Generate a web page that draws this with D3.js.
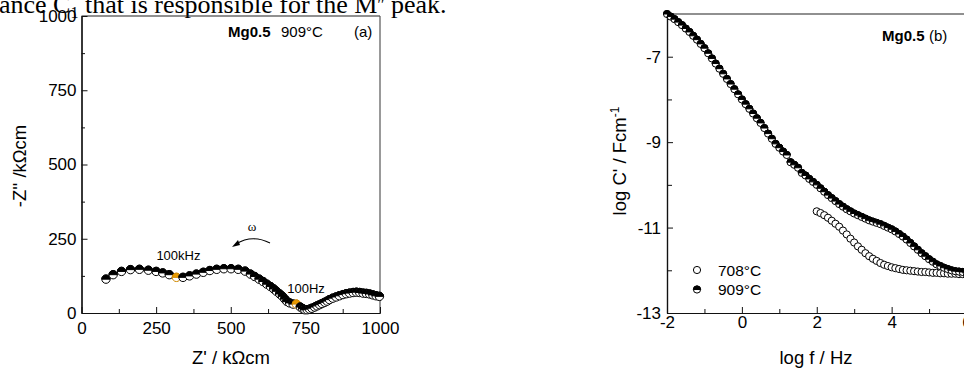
<!DOCTYPE html>
<html><head><meta charset="utf-8">
<script src="https://cdn.jsdelivr.net/npm/d3@7"></script>
<style>
html,body{margin:0;padding:0;background:#fff;overflow:hidden;}
text{font-family:"Liberation Sans",Arial,sans-serif;fill:#000;}
</style></head>
<body>
<svg id="fig" width="964" height="370"></svg>
<script>
// ---------- Panel (a): Nyquist plot, Mg0.5 at 909°C ----------
const zReal = [82,106,134,164,194,224,250,272,294,318,340,362,385,408,430,453,477,501,525,548,
  566,580,595,608,621,633,644,653,664,673,681,688,697,709,720,
  733,741,748,756,764,772,781,789,798,806,815,823,831,842,853,864,876,887,898,910,921,932,943,954,965,976,987,998];
const zImag = [114,129,140,146,147,144,140,135,129,120,120,125,131,137,143,147,149,149,147,141,
  131,123,114,106,97,89,81,73,64,56,47,39,34,30,30,
  20,15,11,11,13,16,20,24,28,32,36,40,45,50,54,58,62,65,67,69,70,69,67,66,64,61,58,56];
const highlightIdx = [9, 34];           // 100 kHz and 100 Hz points
const highlightLabels = ["100kHz", "100Hz"];
const aTicks = [0, 250, 500, 750, 1000];
const aMinor = [125, 375, 625, 875];

// ---------- Panel (b): log C' vs log f ----------
const logf909 = [-2.0,-1.9,-1.8,-1.7,-1.6,-1.5,-1.4,-1.3,-1.2,-1.1,-1.0,-0.9,-0.8,-0.7,-0.6,-0.5,-0.4,-0.3,-0.2,-0.1,
  0.0,0.1,0.2,0.3,0.4,0.5,0.6,0.7,0.8,0.9,1.0,1.1,1.2,1.3,1.4,1.5,1.6,1.7,1.8,1.9,
  2.0,2.1,2.2,2.3,2.4,2.5,2.6,2.7,2.8,2.9,3.0,3.1,3.2,3.3,3.4,3.5,3.6,3.7,3.8,3.9,
  4.0,4.1,4.2,4.3,4.4,4.5,4.6,4.7,4.8,4.9,5.0,5.1,5.2,5.3,5.4,5.5,5.6,5.7,5.8,5.9,6.0];
const logC909 = [-6.00,-6.06,-6.12,-6.19,-6.26,-6.34,-6.42,-6.51,-6.60,-6.70,-6.80,-6.92,-7.04,-7.16,-7.28,-7.40,-7.52,-7.64,-7.76,-7.88,
  -8.00,-8.11,-8.22,-8.33,-8.44,-8.55,-8.67,-8.80,-8.92,-9.04,-9.13,-9.22,-9.30,-9.47,-9.53,-9.60,-9.72,-9.78,-9.86,-9.93,
  -10.00,-10.08,-10.16,-10.24,-10.31,-10.38,-10.45,-10.51,-10.57,-10.62,-10.67,-10.71,-10.75,-10.79,-10.83,-10.86,-10.89,-10.92,-10.96,-11.00,
  -11.04,-11.09,-11.15,-11.21,-11.28,-11.36,-11.44,-11.52,-11.60,-11.67,-11.74,-11.80,-11.86,-11.90,-11.94,-11.97,-12.00,-12.02,-12.03,-12.04,-12.05];
const logf708 = [2.0,2.1,2.2,2.3,2.4,2.5,2.6,2.7,2.8,2.9,3.0,3.1,3.2,3.3,3.4,3.5,3.6,3.7,3.8,3.9,
  4.0,4.1,4.2,4.3,4.4,4.5,4.6,4.7,4.8,4.9,5.0,5.1,5.2,5.3,5.4,5.5,5.6,5.7,5.8,5.9,6.0];
const logC708 = [-10.62,-10.66,-10.71,-10.77,-10.84,-10.91,-10.98,-11.07,-11.16,-11.26,-11.35,-11.44,-11.52,-11.60,-11.67,-11.73,-11.78,-11.83,-11.87,-11.90,
  -11.93,-11.95,-11.97,-11.99,-12.00,-12.01,-12.02,-12.03,-12.04,-12.04,-12.05,-12.06,-12.06,-12.07,-12.07,-12.08,-12.08,-12.08,-12.09,-12.09,-12.09];
const bXTicks = [-2, 0, 2, 4, 6];
const bXMinor = [-1, 1, 3, 5];
const bYTicks = [-13, -11, -9, -7];
const bYMinor = [-12, -10, -8];
const legendLabels = ["708°C", "909°C"];

const svg = d3.select("#fig");

// Top running text (cropped page text)
const para = svg.append("text").attr("x", -1).attr("y", 13)
  .style("font-family", "'Liberation Serif','Times New Roman',serif").style("font-size", "26px");
para.append("tspan").text("ance C");
para.append("tspan").attr("dy", 5).style("font-size", "16px").text("1");
para.append("tspan").attr("dy", -5).text(" that is responsible for the M");
para.append("tspan").attr("dy", -3).style("font-size", "16px").text("′′");
para.append("tspan").attr("dy", 3).text(" peak.");

function halfMarker(g, x, y, r, topColor, strokeColor) {
  const m = g.append("g").attr("transform", `translate(${x},${y})`);
  m.append("circle").attr("r", r).attr("fill", "#fff").attr("stroke", strokeColor).attr("stroke-width", 1);
  m.append("path").attr("d", `M${-r},0 A${r},${r} 0 0 1 ${r},0 Z`).attr("fill", topColor)
    .attr("stroke", strokeColor).attr("stroke-width", 1);
}

// ---------- Panel (a) ----------
const ax = d3.scaleLinear().domain([0, 1000]).range([81.5, 380]);
const ay = d3.scaleLinear().domain([0, 1000]).range([313, 16]);
const ga = svg.append("g");

ga.append("line").attr("x1", 81.5).attr("x2", 380).attr("y1", 16).attr("y2", 16).attr("stroke", "#222").attr("stroke-width", 1.2);
ga.append("line").attr("x1", 380).attr("x2", 380).attr("y1", 16).attr("y2", 313).attr("stroke", "#555").attr("stroke-width", 1.2);

const fmtA = d3.format("d");
const axA = ga.append("g").attr("transform", "translate(0,313)")
  .call(d3.axisBottom(ax).tickValues(aTicks).tickSize(-6).tickPadding(9).tickFormat(fmtA).tickSizeOuter(0));
const axAm = ga.append("g").attr("transform", "translate(0,313)")
  .call(d3.axisBottom(ax).tickValues(aMinor).tickSize(-4).tickFormat("").tickSizeOuter(0));
const ayA = ga.append("g").attr("transform", "translate(81.5,0)")
  .call(d3.axisLeft(ay).tickValues(aTicks).tickSize(-6).tickPadding(5).tickFormat(fmtA).tickSizeOuter(0));
const ayAm = ga.append("g").attr("transform", "translate(81.5,0)")
  .call(d3.axisLeft(ay).tickValues(aMinor).tickSize(-3.5).tickFormat("").tickSizeOuter(0));
[axA, axAm, ayA, ayAm].forEach(s => {
  s.selectAll(".domain").attr("stroke", "#111").attr("stroke-width", 1.2);
  s.selectAll("line").attr("stroke", "#111");
  s.selectAll("text").style("font-size", "17px").style("font-family", "'Liberation Sans',Arial,sans-serif");
});

ga.append("text").attr("x", 231).attr("y", 364).attr("text-anchor", "middle").style("font-size", "18.5px").text("Z' / kΩcm");
ga.append("text").attr("transform", "translate(26,166) rotate(-90)").attr("text-anchor", "middle")
  .style("font-size", "18.5px").text("-Z'' /kΩcm");

ga.append("text").attr("x", 228).attr("y", 37).style("font-size", "15px").style("font-weight", "bold").text("Mg0.5");
ga.append("text").attr("x", 281).attr("y", 37).style("font-size", "15px").text("909°C");
ga.append("text").attr("x", 354).attr("y", 37).style("font-size", "15px").text("(a)");

const mA = ga.append("g");
zReal.forEach((v, i) => {
  const hl = highlightIdx.includes(i);
  halfMarker(mA, ax(v), ay(zImag[i]), 4.2, hl ? "#e89a00" : "#000", hl ? "#d08800" : "#000");
});
ga.append("text").attr("x", ax(zReal[highlightIdx[0]]) + 2).attr("y", 260).attr("text-anchor", "middle")
  .style("font-size", "13px").text(highlightLabels[0]);
ga.append("text").attr("x", 306).attr("y", 293).attr("text-anchor", "middle")
  .style("font-size", "13px").text(highlightLabels[1]);

ga.append("text").attr("x", 252).attr("y", 231).attr("text-anchor", "middle")
  .style("font-family", "'Liberation Serif','Times New Roman',serif").style("font-size", "13px").text("ω");
ga.append("path").attr("d", "M270,243 Q252,234 236,244").attr("fill", "none").attr("stroke", "#000").attr("stroke-width", 1.1);
ga.append("path").attr("d", "M232,247 L238,240 L240,245 Z").attr("fill", "#000");

// ---------- Panel (b) ----------
const bx = d3.scaleLinear().domain([-2, 6]).range([667, 966.5]);
const by = d3.scaleLinear().domain([-13, -6]).range([313, 14]);
const gb = svg.append("g");

gb.append("line").attr("x1", 667).attr("x2", 966.5).attr("y1", 14).attr("y2", 14).attr("stroke", "#222").attr("stroke-width", 1.2);

const axB = gb.append("g").attr("transform", "translate(0,313)")
  .call(d3.axisBottom(bx).tickValues(bXTicks).tickSize(-6).tickPadding(3).tickFormat(d => String(d)).tickSizeOuter(0));
const axBm = gb.append("g").attr("transform", "translate(0,313)")
  .call(d3.axisBottom(bx).tickValues(bXMinor).tickSize(-4).tickFormat("").tickSizeOuter(0));
const ayB = gb.append("g").attr("transform", "translate(667,0)")
  .call(d3.axisLeft(by).tickValues(bYTicks).tickSize(-6).tickPadding(6).tickFormat(d => String(d)).tickSizeOuter(0));
const ayBm = gb.append("g").attr("transform", "translate(667,0)")
  .call(d3.axisLeft(by).tickValues(bYMinor).tickSize(-5).tickFormat("").tickSizeOuter(0));
[axB, axBm, ayB, ayBm].forEach(s => {
  s.selectAll(".domain").attr("stroke", "#111").attr("stroke-width", 1.2);
  s.selectAll("line").attr("stroke", "#111");
  s.selectAll("text").style("font-size", "17px").style("font-family", "'Liberation Sans',Arial,sans-serif");
});

gb.append("text").attr("x", 816).attr("y", 364).attr("text-anchor", "middle").style("font-size", "18.5px").text("log f / Hz");
const yl = gb.append("text").attr("transform", "translate(626,161) rotate(-90)").attr("text-anchor", "middle")
  .style("font-size", "18.5px");
yl.append("tspan").text("log C' / Fcm");
yl.append("tspan").attr("dy", -7).style("font-size", "12px").text("-1");

gb.append("text").attr("x", 882).attr("y", 41).style("font-size", "15px").style("font-weight", "bold").text("Mg0.5");
gb.append("text").attr("x", 929).attr("y", 41).style("font-size", "15px").text("(b)");

const m708 = gb.append("g");
logf708.forEach((v, i) => {
  m708.append("circle").attr("cx", bx(v)).attr("cy", by(logC708[i])).attr("r", 3.6)
    .attr("fill", "#fff").attr("stroke", "#000").attr("stroke-width", 1);
});
const m909 = gb.append("g");
logf909.forEach((v, i) => {
  halfMarker(m909, bx(v), by(logC909[i]), 3.6, "#000", "#000");
});

const lg = gb.append("g");
lg.append("circle").attr("cx", 697).attr("cy", 270).attr("r", 3.6).attr("fill", "#fff").attr("stroke", "#000");
halfMarker(lg, 697, 289.5, 3.6, "#000", "#000");
lg.append("text").attr("x", 718).attr("y", 275.5).style("font-size", "15.5px").text(legendLabels[0]);
lg.append("text").attr("x", 718).attr("y", 295).style("font-size", "15.5px").text(legendLabels[1]);
</script>
</body></html>
